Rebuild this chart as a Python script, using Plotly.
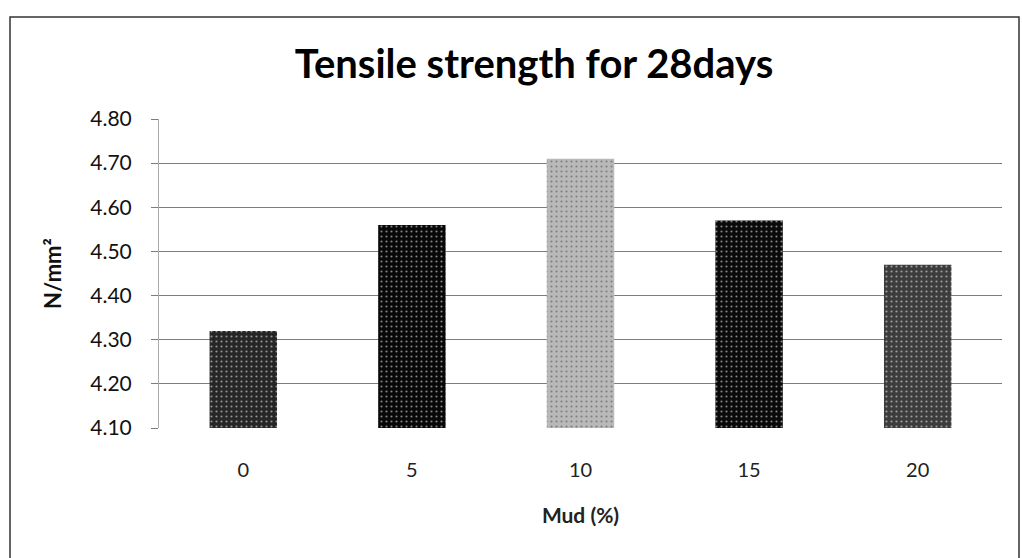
import plotly.graph_objects as go

# Data
mud_pct = ["0", "5", "10", "15", "20"]
tensile_28d = [4.32, 4.56, 4.71, 4.57, 4.47]
y_ticks = [4.10, 4.20, 4.30, 4.40, 4.50, 4.60, 4.70, 4.80]

# Style
bar_colors = ["#262626", "#080808", "#b9b9b9", "#0a0a0a", "#3c3c3c"]
speckle_colors = ["#6a6a6a", "#4a4a4a", "#e6e6e6", "#4a4a4a", "#8a8a8a"]

fig = go.Figure(
    go.Bar(
        x=mud_pct,
        y=[v - y_ticks[0] for v in tensile_28d],
        base=y_ticks[0],
        marker=dict(
            color=bar_colors,
            line=dict(width=0),
            pattern=dict(shape=".", fgcolor=speckle_colors, size=5, solidity=0.15),
        ),
        hovertext=[f"{v:.2f}" for v in tensile_28d],
    )
)

fig.update_layout(
    width=1022,
    height=558,
    margin=dict(l=159, r=20, t=119, b=130),
    paper_bgcolor="white",
    plot_bgcolor="white",
    showlegend=False,
    bargap=0.6,
    title=dict(
        text="<b>Tensile strength for 28days</b>",
        x=534 / 1022,
        xanchor="center",
        xref="container",
        yref="container",
        y=1 - 64 / 558,
        yanchor="middle",
        font=dict(family="Lato", size=40, color="black"),
    ),
    font=dict(family="Lato", color="black"),
)

fig.update_xaxes(
    type="category",
    showgrid=False,
    showline=False,
    ticks="",
    ticklabelstandoff=28,
    tickfont=dict(size=20, color="#222"),
    title=dict(text="<b>Mud (%)</b>", font=dict(size=21, color="#222"), standoff=28),
)

fig.update_yaxes(
    range=[y_ticks[0], y_ticks[-1]],
    tickvals=y_ticks,
    tickformat=".2f",
    showgrid=True,
    gridcolor="#7d7d7d",
    gridwidth=1,
    zeroline=False,
    showline=True,
    linecolor="#aaaaaa",
    linewidth=1,
    ticks="outside",
    ticklen=7,
    tickcolor="#7d7d7d",
    ticklabelstandoff=15,
    tickfont=dict(size=21, color="#111"),
    title=dict(text="<b>N/mm²</b>", font=dict(size=22, color="#111"), standoff=22),
)

# Chart border frame
fig.add_shape(
    type="rect",
    xref="paper", yref="paper",
    x0=(10 - 159) / 843, x1=(1019 - 159) / 843,
    y0=(428 - 560) / 309, y1=(428 - 17) / 309,
    line=dict(color="#333", width=1.5),
    fillcolor="rgba(0,0,0,0)",
    layer="below",
)

fig.write_html("out.html")
